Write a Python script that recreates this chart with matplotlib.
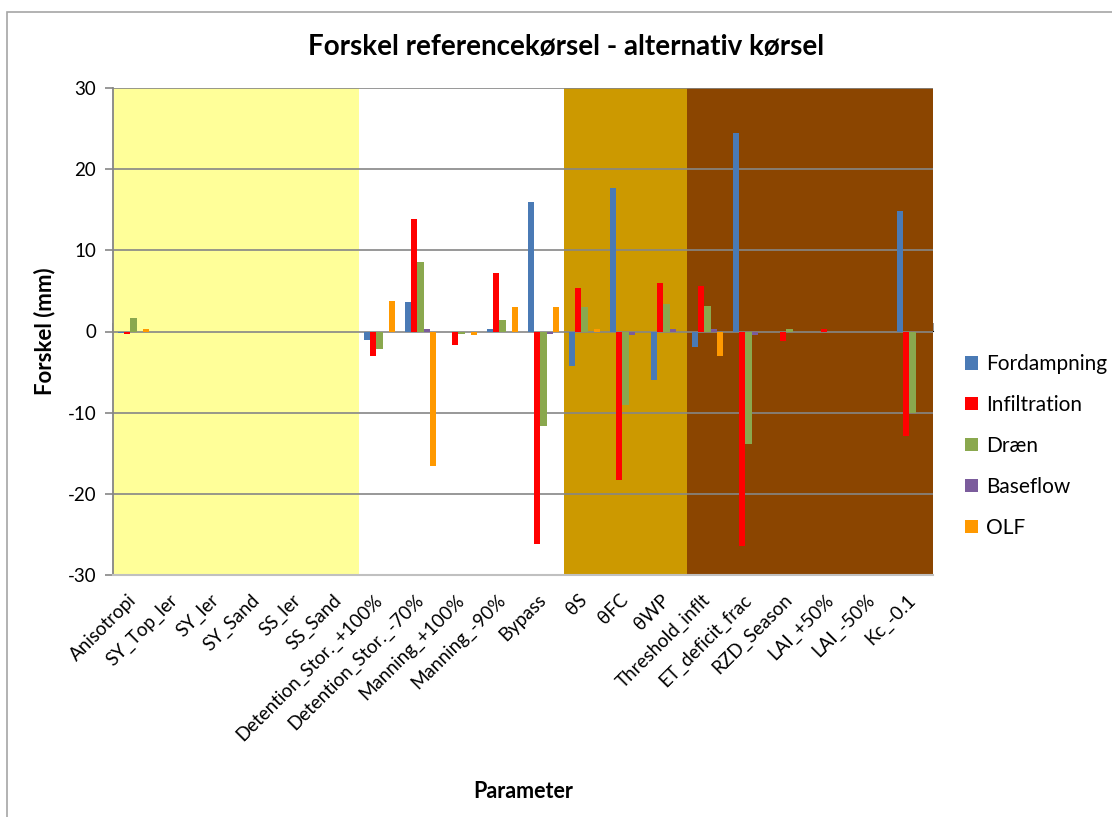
import matplotlib
matplotlib.use("Agg")
import matplotlib.pyplot as plt
import numpy as np
from matplotlib.patches import Rectangle

plt.rcParams['font.family'] = ['Lato', 'DejaVu Sans']
plt.rcParams['axes.unicode_minus'] = False

categories = ["Anisotropi", "SY_Top_ler", "SY_ler", "SY_Sand", "SS_ler", "SS_Sand",
              "Detention_Stor._+100%", "Detention_Stor._-70%", "Manning_+100%", "Manning_-90%",
              "Bypass", "θS", "θFC", "θWP", "Threshold_inflt", "ET_deficit_frac",
              "RZD_Season", "LAI_+50%", "LAI_-50%", "Kc_-0.1"]

fordampning  = [-0.15, 0, 0, 0, 0, 0, -1.0, 3.66, 0, 0.3, 16.0, -4.3, 17.7, -5.95, -1.9, 24.5, -0.1, 0, 0, 14.9]
infiltration = [-0.25, 0, 0, 0, 0, 0, -3.0, 13.9, -1.7, 7.2, -26.2, 5.3, -18.3, 6.0, 5.65, -26.4, -1.2, 0.25, 0, -12.9]
draen        = [1.7, 0, 0, 0, 0, 0, -2.2, 8.6, -0.25, 1.45, -11.6, 3.0, -9.0, 3.4, 3.15, -13.9, 0.3, 0, 0, -10.1]
baseflow     = [0, 0, 0, 0, 0, 0, 0, 0.3, 0, 0, -0.3, 0, -0.37, 0.25, 0.25, -0.37, 0, 0, 0, 0]
olf          = [0.3, 0, 0, 0, 0, 0, 3.8, -16.6, -0.4, 3.0, 3.0, 0.25, 0, 0, -3.0, 0, 0, 0, 0, 0]

series_names = ["Fordampning", "Infiltration", "Dræn", "Baseflow", "OLF"]
series = [fordampning, infiltration, draen, baseflow, olf]
colors = ["#4A7AB5", "#FF0000", "#8AA84E", "#7B5C9C", "#FF9900"]

# background category groups: (first index, end index, colour)
bands = [(0, 6, "#FFFF99"), (6, 11, "#FFFFFF"), (11, 14, "#CC9900"), (14, 20, "#8B4500")]

fig = plt.figure(figsize=(11.12, 8.17), dpi=100)
ax = fig.add_axes([113/1112, 1-575/817, 820/1112, 487/817])

# chart area border
fig.patches.append(Rectangle((7/1112, -0.1), 1.2, 1.1 - 12/817,
                             transform=fig.transFigure, fill=False,
                             edgecolor="#A6A6A6", lw=1.2, zorder=0))

n = len(categories)
x = np.arange(n)
for s, e, c in bands:
    ax.axvspan(s - 0.5, e - 0.5, color=c, zorder=0.1, lw=0)

bw = 0.155
for k, (name, vals, col) in enumerate(zip(series_names, series, colors)):
    ax.bar(x + (k - 2) * bw, vals, width=bw, color=col, label=name, zorder=2, lw=0)

ax.set_xlim(-0.5, n - 0.5)
ax.set_ylim(-30, 30)
ax.set_yticks(np.arange(-30, 31, 10))
ax.yaxis.grid(True, color="#868686", lw=1.2, zorder=0.5)
ax.set_axisbelow(True)

for sp in ["top", "right"]:
    ax.spines[sp].set_visible(False)
ax.spines["left"].set_color("#868686")
ax.spines["left"].set_linewidth(1.3)
ax.spines["bottom"].set_color("#C0C0C0")
ax.spines["bottom"].set_linewidth(1.5)
ax.tick_params(axis="y", direction="out", length=6, color="#868686", width=1.2,
               labelsize=13.5, pad=6)

ax.set_xticks(x)
ax.set_xticklabels(categories, rotation=45, ha="right", va="center",
                   rotation_mode="anchor", fontsize=13.5)
ax.tick_params(axis="x", length=0, pad=16)

# category axis at zero with boundary tick marks
sec = ax.secondary_xaxis(0.5)
sec.set_xticks(np.arange(n + 1) - 0.5)
sec.set_xticklabels([])
sec.tick_params(direction="out", length=6, color="#868686", width=1.2)
sec.spines["bottom"].set_color("#868686")
sec.spines["bottom"].set_linewidth(2)

ax.set_ylabel("Forskel (mm)", fontsize=16, fontweight="bold", labelpad=9)
ax.set_xlabel("Parameter", fontsize=15.5, fontweight="bold", labelpad=27)
fig.text(566/1112, 1 - 47/817, "Forskel referencekørsel - alternativ kørsel",
         ha="center", va="center", fontsize=20, fontweight="bold")

leg = fig.legend(loc="center left", bbox_to_anchor=(955/1112, 1 - 446/817),
                 frameon=False, fontsize=15, handlelength=0.6, handleheight=0.6,
                 handletextpad=0.4, labelspacing=1.0, borderpad=0)

fig.savefig("out.png", dpi=100)
